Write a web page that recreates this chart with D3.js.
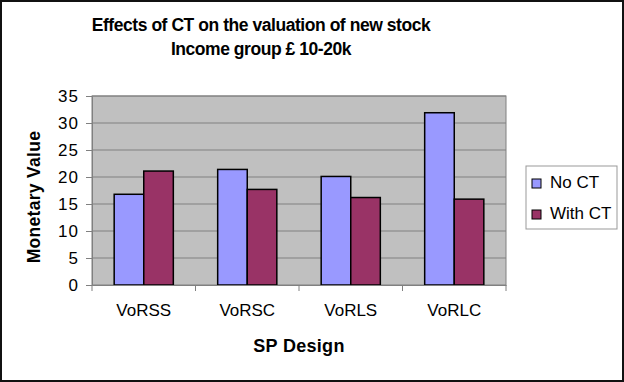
<!DOCTYPE html>
<html>
<head>
<meta charset="utf-8">
<script src="https://cdn.jsdelivr.net/npm/d3@7"></script>
<style>
  body { margin: 0; background: #fff; }
  svg { display: block; font-family: "Liberation Sans", Arial, sans-serif; }
</style>
</head>
<body>
<svg></svg>
<script>
const categories = ["VoRSS", "VoRSC", "VoRLS", "VoRLC"];
const seriesNames = ["No CT", "With CT"];
const noCT = [16.8, 21.4, 20.1, 31.9];
const withCT = [21.1, 17.7, 16.2, 15.9];
const yTicks = [0, 5, 10, 15, 20, 25, 30, 35];
const colors = ["#9999FF", "#993366"];

const W = 624, H = 382;
const FONT = "Liberation Sans, Arial, sans-serif";
const svg = d3.select("svg").attr("width", W).attr("height", H);

// outer frame
svg.append("rect")
    .attr("x", 1).attr("y", 1)
    .attr("width", W - 2).attr("height", H - 2)
    .attr("fill", "#fff")
    .attr("stroke", "#111")
    .attr("stroke-width", 2);

const plot = { left: 92, top: 96, right: 506, bottom: 285 };

// ---- SCALES ----
const x0 = d3.scaleBand().domain(categories)
    .range([plot.left, plot.right])
    .paddingInner(0).paddingOuter(0);
const groupW = x0.bandwidth();
const barW = groupW / 3.5;

const y = d3.scaleLinear().domain([0, 35]).range([plot.bottom, plot.top]);

// plot background
svg.append("rect")
    .attr("x", plot.left).attr("y", plot.top)
    .attr("width", plot.right - plot.left)
    .attr("height", plot.bottom - plot.top)
    .attr("fill", "#C0C0C0")
    .attr("stroke", "#808080")
    .attr("stroke-width", 1);

// gridlines
svg.append("g")
    .selectAll("line")
    .data(yTicks.slice(1))
    .join("line")
    .attr("x1", plot.left).attr("x2", plot.right)
    .attr("y1", d => y(d)).attr("y2", d => y(d))
    .attr("stroke", "#808080")
    .attr("stroke-width", 1);

// ---- BARS ----
const rows = categories.map((c, i) => ({ cat: c, vals: [noCT[i], withCT[i]] }));

svg.append("g")
    .selectAll("g")
    .data(rows)
    .join("g")
    .selectAll("rect")
    .data(d => d.vals.map((v, j) => ({ cat: d.cat, v, j })))
    .join("rect")
    .attr("x", d => x0(d.cat) + barW * 0.75 + d.j * barW)
    .attr("y", d => y(d.v))
    .attr("width", barW)
    .attr("height", d => y(0) - y(d.v))
    .attr("fill", d => colors[d.j])
    .attr("stroke", "#000")
    .attr("stroke-width", 1.5);

// ---- AXES ----
const yAxis = d3.axisLeft(y).tickValues(yTicks).tickSize(6).tickPadding(7);
const yAxisG = svg.append("g")
    .attr("transform", `translate(${plot.left},0)`)
    .call(yAxis);
yAxisG.select(".domain").attr("stroke", "#808080");
yAxisG.selectAll(".tick line").attr("stroke", "#808080");
yAxisG.selectAll("text")
    .attr("font-size", 17).attr("fill", "#000")
    .attr("letter-spacing", 1)
    .attr("font-family", FONT);

const xAxis = d3.axisBottom(x0).tickSize(0).tickPadding(19);
const xAxisG = svg.append("g")
    .attr("transform", `translate(0,${plot.bottom})`)
    .call(xAxis);
xAxisG.select(".domain").attr("stroke", "#808080");
xAxisG.selectAll("text")
    .attr("font-size", 17).attr("fill", "#000")
    .attr("font-family", FONT);

// category separators on x axis
svg.append("g")
    .selectAll("line")
    .data(categories.concat(["end"]))
    .join("line")
    .attr("x1", (d, i) => plot.left + i * groupW)
    .attr("x2", (d, i) => plot.left + i * groupW)
    .attr("y1", plot.bottom)
    .attr("y2", plot.bottom + 6)
    .attr("stroke", "#808080");

// ---- TITLES ----
svg.append("text")
    .attr("x", 261).attr("y", 31)
    .attr("text-anchor", "middle")
    .attr("font-size", 17.5).attr("font-weight", "bold")
    .attr("letter-spacing", -0.45)
    .text("Effects of CT on the valuation of new stock");
svg.append("text")
    .attr("x", 261).attr("y", 55)
    .attr("text-anchor", "middle")
    .attr("font-size", 17.5).attr("font-weight", "bold")
    .attr("letter-spacing", -0.45)
    .text("Income group £ 10-20k");

svg.append("text")
    .attr("transform", "translate(40,197) rotate(-90)")
    .attr("text-anchor", "middle")
    .attr("font-size", 17.5).attr("font-weight", "bold")
    .attr("letter-spacing", 0.3)
    .text("Monetary Value");

svg.append("text")
    .attr("x", 299).attr("y", 352)
    .attr("text-anchor", "middle")
    .attr("font-size", 18).attr("font-weight", "bold")
    .attr("letter-spacing", 0.3)
    .text("SP Design");

// ---- LEGEND ----
const legend = svg.append("g");
legend.append("rect")
    .attr("x", 526).attr("y", 166)
    .attr("width", 91).attr("height", 63)
    .attr("fill", "#fff")
    .attr("stroke", "#999")
    .attr("stroke-width", 1);

const items = legend.selectAll("g")
    .data(seriesNames)
    .join("g")
    .attr("transform", (d, i) => `translate(532,${188 + i * 31})`);
items.append("rect")
    .attr("x", 0).attr("y", -9)
    .attr("width", 9).attr("height", 9)
    .attr("fill", (d, i) => colors[i])
    .attr("stroke", "#000")
    .attr("stroke-width", 1);
items.append("text")
    .attr("x", 18).attr("y", 0)
    .attr("font-size", 17)
    .text(d => d);
</script>
</body>
</html>
